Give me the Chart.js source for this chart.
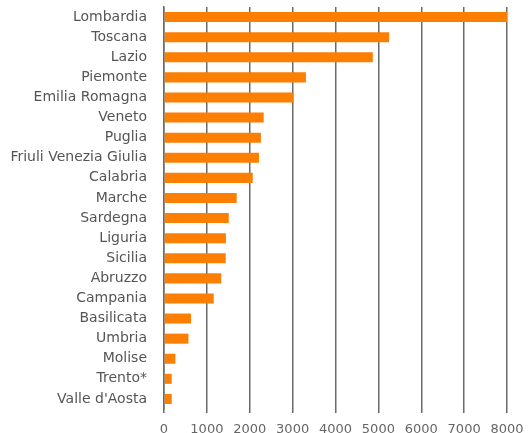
<!DOCTYPE html>
<html>
<head>
<meta charset="utf-8">
<script src="https://cdn.jsdelivr.net/npm/chart.js@4"></script>
<style>
  html, body { margin: 0; padding: 0; background: #fff; }
  #wrap { width: 529px; height: 433px; position: relative; }
</style>
</head>
<body>
<div id="wrap"><canvas id="regionsChart"></canvas></div>
<script>
const regions = [
  "Lombardia", "Toscana", "Lazio", "Piemonte", "Emilia Romagna",
  "Veneto", "Puglia", "Friuli Venezia Giulia", "Calabria", "Marche",
  "Sardegna", "Liguria", "Sicilia", "Abruzzo", "Campania",
  "Basilicata", "Umbria", "Molise", "Trento*", "Valle d'Aosta"
]
const values = [
  8000, 5250, 4870, 3310, 3020,
  2325, 2260, 2215, 2070, 1695,
  1510, 1445, 1440, 1335, 1160,
  630, 570, 265, 180, 180
]
const xTicks = [0, 1000, 2000, 3000, 4000, 5000, 6000, 7000, 8000]

const ctx = document.getElementById("regionsChart")

new Chart(ctx, {
  type: "bar",
  data: {
    labels: regions,
    datasets: [{
      data: values,
      backgroundColor: "#fd7f02",
      barPercentage: 0.5,
      categoryPercentage: 1
    }]
  },
  options: {
    indexAxis: "y",
    responsive: true,
    maintainAspectRatio: false,
    animation: false,
    layout: {
      padding: { top: 7, right: 22, bottom: 0, left: 0 }
    },
    plugins: {
      legend: { display: false },
      tooltip: { enabled: false }
    },
    scales: {
      x: {
        min: 0,
        max: 8000,
        afterBuildTicks: (axis) => {
          axis.ticks = xTicks.map((v) => ({ value: v }))
        },
        afterFit: (axis) => {
          axis.height = 24
          axis.paddingLeft = 0
          axis.paddingRight = 0
        },
        grid: {
          color: "#6a6a6a",
          lineWidth: 1.5,
          tickLength: 4
        },
        border: { display: false },
        ticks: {
          color: "#666",
          padding: 9,
          font: { family: "DejaVu Sans", size: 13 },
          callback: (v) => String(v)
        }
      },
      y: {
        afterFit: (axis) => {
          axis.width = 164
          axis.paddingTop = 0
          axis.paddingBottom = 0
        },
        grid: { display: false, drawTicks: false },
        border: { display: true, color: "#6a6a6a", width: 1.5 },
        ticks: {
          color: "#555",
          padding: 17,
          font: { family: "DejaVu Sans", size: 14 }
        }
      }
    }
  }
})
</script>
</body>
</html>
